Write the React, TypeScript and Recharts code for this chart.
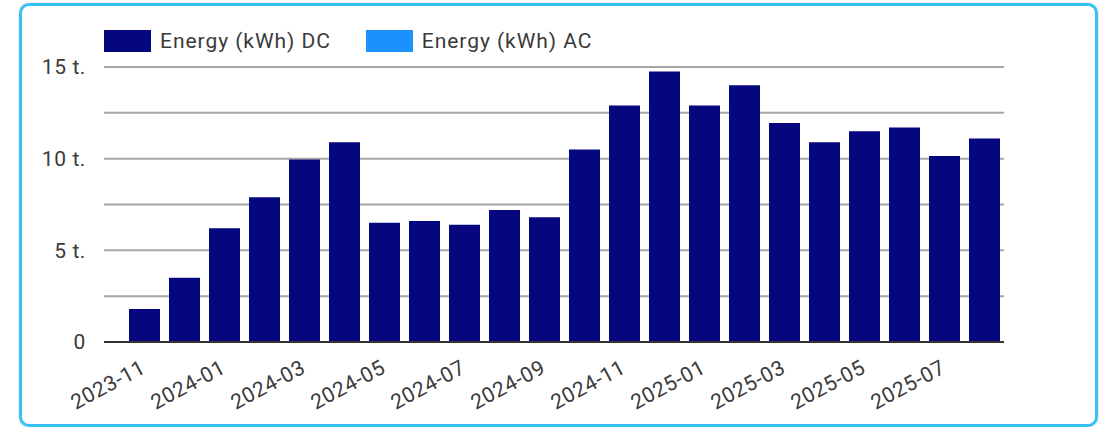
import { BarChart, Bar, XAxis, YAxis, CartesianGrid } from 'recharts';

const MONTHS = [
  '2023-11', '2023-12',
  '2024-01', '2024-02', '2024-03', '2024-04', '2024-05', '2024-06',
  '2024-07', '2024-08', '2024-09', '2024-10', '2024-11', '2024-12',
  '2025-01', '2025-02', '2025-03', '2025-04', '2025-05', '2025-06',
  '2025-07', '2025-08',
];

// thousands of kWh
const DC_VALUES = [
  1.8, 3.5, 6.2, 7.9, 9.95, 10.9, 6.5, 6.6, 6.4, 7.2, 6.8,
  10.5, 12.9, 14.75, 12.9, 14.0, 11.95, 10.9, 11.5, 11.7, 10.15, 11.1,
];

const Y_TICKS = [0, 2.5, 5, 7.5, 10, 12.5, 15];

const SERIES = [
  { name: 'Energy (kWh) DC', color: '#06067f' },
  { name: 'Energy (kWh) AC', color: '#1b91fb' },
];

const data = MONTHS.map((m, i) => ({ month: m, dc: DC_VALUES[i] }));

const TEXT = '#3a3a3a';
const FONT = 'Roboto, sans-serif';

function formatY(v: number) {
  if (v === 0) return '0';
  if (v % 5 !== 0) return '';
  return `${v} t.`;
}

function MonthTick({ x, y, payload }: any) {
  return (
    <g transform={`translate(${x + 3},${y + 30}) rotate(-28)`}>
      <text x={0} y={0} textAnchor="end" fill={TEXT} fontSize={21} fontFamily={FONT} letterSpacing={0.6}>
        {payload.value}
      </text>
    </g>
  );
}

export default function App() {
  return (
    <div style={{ position: 'fixed', left: 0, top: 0, width: 1099, height: 427, fontFamily: FONT, background: '#fff' }}>
      <div
        style={{
          position: 'absolute',
          left: 19,
          top: 3,
          width: 1079,
          height: 424,
          boxSizing: 'border-box',
          border: '3px solid #35c1f3',
          borderRadius: 10,
          boxShadow: '0 0 2px rgba(0,0,0,0.25)',
        }}
      />
      <div style={{ position: 'absolute', left: 104, top: 30, display: 'flex', gap: 35 }}>
        {SERIES.map((s) => (
          <span key={s.name} style={{ display: 'flex', alignItems: 'center', gap: 9 }}>
            <span style={{ width: 47, height: 22, background: s.color, display: 'inline-block' }} />
            <span style={{ fontSize: 21, color: TEXT, lineHeight: '22px', letterSpacing: 0.95 }}>{s.name}</span>
          </span>
        ))}
      </div>
      <div style={{ position: 'absolute', left: 0, top: 0 }}>
        <BarChart width={1099} height={427} data={data} margin={{ top: 67, right: 95, bottom: 25, left: 44 }}>
          <CartesianGrid vertical={false} stroke="#a6a6a6" strokeWidth={2} />
          <XAxis
            dataKey="month"
            height={60}
            interval={1}
            padding={{ left: 20, right: 0 }}
            tickLine={false}
            tickSize={0}
            tickMargin={0}
            axisLine={{ stroke: '#333', strokeWidth: 2 }}
            tick={<MonthTick />}
          />
          <YAxis
            width={60}
            domain={[0, 15]}
            ticks={Y_TICKS}
            interval={0}
            tickFormatter={formatY}
            axisLine={false}
            tickLine={false}
            tickSize={0}
            tickMargin={18}
            tick={{ fill: TEXT, fontSize: 21, fontFamily: FONT, letterSpacing: 0.6 }}
          />
          <Bar dataKey="dc" name={SERIES[0].name} fill={SERIES[0].color} barSize={31} isAnimationActive={false} />
        </BarChart>
      </div>
    </div>
  );
}
